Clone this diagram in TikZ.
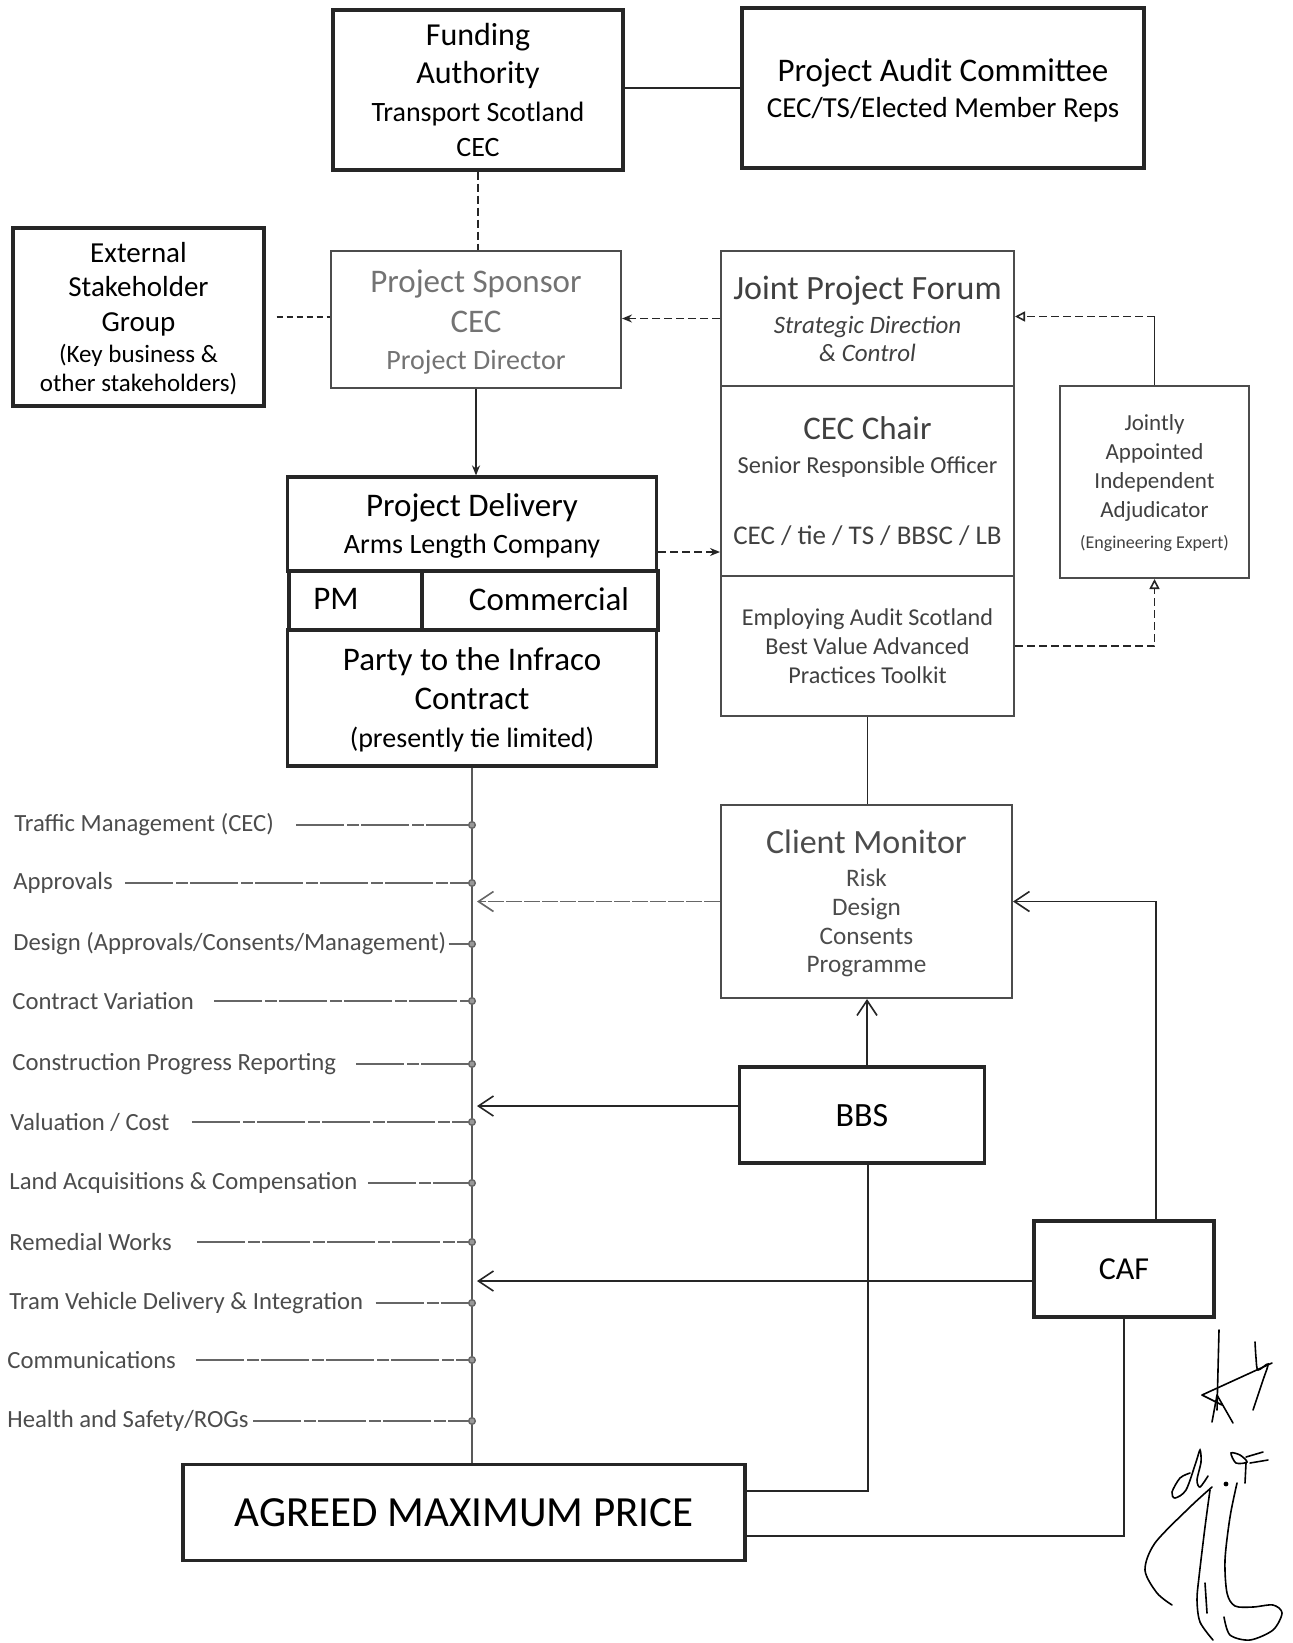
\documentclass[tikz,border=0pt]{standalone}
\usepackage{fontspec}
\setmainfont{Carlito}
\usetikzlibrary{arrows.meta,calc}
\newcommand\fs[2]{\fontsize{#1}{#2}\selectfont}
\tikzset{
 thickbox/.style={draw=black!85, line width=1.6pt, rectangle, inner sep=0pt, align=center, text depth=0pt},
 thinbox/.style={draw=black!70, line width=1pt, rectangle, inner sep=0pt, align=center, text depth=0pt},
 conn/.style={draw=black!85, line width=0.8pt},
 dconn/.style={conn, dash pattern=on 4pt off 2pt},
 leg/.style={draw=black!60, line width=0.7pt, dash pattern=on 24pt off 1.5pt on 6pt off 1pt, -{Circle[length=4pt,fill=black!40]}, shorten >=-2pt},
 oarr/.style={conn, -{Straight Barb[length=7.5pt,width=10pt]}, shorten >=2.5pt},
 sarr/.style={-{Stealth[length=5pt,width=4pt]}},
 tarr/.style={-{Triangle[open,length=5pt,width=5pt]}},
 lab/.style={anchor=west, inner sep=0pt, text=black!70, font=\fs{12.35}{14}},
 sig/.style={draw=black, line width=0.8pt, line cap=round},
}
\begin{document}
\begin{tikzpicture}[x=0.5pt,y=-0.5pt]
\useasboundingbox (0,0) rectangle (1292,1643);

% top row
\node[thickbox, minimum width=145pt, minimum height=80pt, font=\fs{16}{19}] (fund) at (478,90)
 {Funding\\Authority\\{\fs{14}{19}Transport Scotland}\\[-1.5pt]{\fs{14}{19}CEC}};
\node[thickbox, minimum width=201pt, minimum height=80pt, font=\fs{16.5}{18}] (pac) at (943,88)
 {Project Audit Committee\\{\fs{14.5}{18}CEC/TS/Elected Member Reps}};

% second row
\node[thickbox, minimum width=125.5pt, minimum height=89pt, font=\fs{14.5}{17}] (esg) at (138.5,317)
 {External\\Stakeholder\\[0.5pt]Group\\[-1.5pt]{\fs{12.5}{15}(Key business \&}\\[-2.5pt]{\fs{12.5}{15}other stakeholders)}};
\node[thinbox, text=black!55, minimum width=145pt, minimum height=68.5pt, font=\fs{16.5}{20}] (ps) at (476,319.5)
 {Project Sponsor\\CEC\\[-1.5pt]{\fs{14}{20}Project Director}};

% JPF group
\node[thinbox, text=black!75, minimum width=146.5pt, minimum height=67.5pt, font=\fs{17}{17}] (jpf) at (867.5,318.5)
 {Joint Project Forum\\{\itshape\fs{12.5}{17}Strategic Direction}\\[-3pt]{\itshape\fs{12.5}{17}\& Control}};
\node[thinbox, text=black!75, minimum width=146.5pt, minimum height=95pt, font=\fs{16.5}{17}] (chair) at (867.5,481)
 {CEC Chair\\{\fs{12.2}{17}Senior Responsible Officer}\\[18.5pt]{\fs{13.5}{17}CEC / tie / TS / BBSC / LB}};
\node[thinbox, text=black!75, minimum width=146.5pt, minimum height=70pt, font=\fs{12.1}{14.5}] (tool) at (867.5,646)
 {Employing Audit Scotland\\Best Value Advanced\\Practices Toolkit};
\node[thinbox, text=black!75, minimum width=94.5pt, minimum height=96pt, font=\fs{11.5}{14.5}] (adj) at (1154.5,482)
 {Jointly\\Appointed\\Independent\\Adjudicator\\[1pt]{\fs{9}{14.5}(Engineering Expert)}};

% project delivery
\node[thickbox, minimum width=184.5pt, minimum height=47pt, font=\fs{16.5}{18.5}] (pdtop) at (472,524)
 {Project Delivery\\{\fs{14}{18.5}Arms Length Company}};
\node[thickbox, minimum width=66.5pt, minimum height=29.5pt] (pm) at (355.5,600.5) {};
\node[thickbox, minimum width=118pt, minimum height=29.5pt] (comm) at (540,600.5) {};
\node[inner sep=0pt, font=\fs{16.5}{18}] (pmtxt) at (336,599) {PM};
\node[inner sep=0pt, font=\fs{16.5}{18}] (commtxt) at (549,599) {Commercial};
\node[thickbox, minimum width=184.5pt, minimum height=68pt, font=\fs{16.5}{19.5}] (party) at (472,698)
 {Party to the Infraco\\Contract\\[-0.5pt]{\fs{14}{19.5}(presently tie limited)}};

% client monitor, BBS, CAF, AMP
\node[thinbox, text=black!70, minimum width=145.5pt, minimum height=96.5pt, font=\fs{12.6}{14.5}] (cm) at (866.5,901.5)
 {{\fs{17}{14.5}Client Monitor}\\[2pt]Risk\\Design\\Consents\\[-0.5pt]Programme};
\node[thickbox, minimum width=122.5pt, minimum height=48pt, font=\fs{17}{20}] (bbs) at (862,1115) {BBS};
\node[thickbox, minimum width=90pt, minimum height=48pt, font=\fs{16}{19}] (caf) at (1124,1269) {CAF};
\node[thickbox, minimum width=281pt, minimum height=48pt, font=\fs{21.5}{24}] (amp) at (464,1512.5) {AGREED MAXIMUM PRICE};

% top connectors
\draw[conn] (fund.east |- pac.west) -- (pac.west);
\draw[dconn] (fund.south) -- (fund.south |- ps.north);
\draw[dconn, dash pattern=on 3pt off 2pt] ([xshift=5.5pt]esg.east) -- (esg.east -| ps.west);
\draw[dconn, sarr] (jpf.west) -- (jpf.west -| ps.east);
\draw[conn, sarr] (ps.south) -- (ps.south |- pdtop.north);
\coordinate (pdout) at ([yshift=-14pt]pdtop.east);
\draw[dconn, sarr] (pdout) -- (pdout -| chair.west);
\draw[conn] (tool.south) -- (tool.south |- cm.north);
\coordinate (jpfin) at ([yshift=1pt]jpf.east);
\coordinate (adjc) at (adj.north |- jpfin);
\draw[conn] (adj.north) -- (adjc);
\draw[dconn, tarr] (adjc) -- (jpfin);
\draw[dconn, tarr] (tool.east) -| (adj.south);

% spine
\draw[draw=black!65, line width=1pt] (party.south) -- (party.south |- amp.north);

% legs
\node[lab] (t1) at (14,825) {Traffic Management (CEC)};
\node[lab] (t2) at (13,883) {Approvals};
\node[lab] (t3) at (13,944) {Design (Approvals/Consents/Management)};
\node[lab] (t4) at (12,1001) {Contract Variation};
\node[lab] (t5) at (12,1064) {Construction Progress Reporting};
\node[lab] (t6) at (10,1122) {Valuation / Cost};
\node[lab] (t7) at (9,1183) {Land Acquisitions \& Compensation};
\node[lab] (t8) at (9,1242) {Remedial Works};
\node[lab] (t9) at (9,1303) {Tram Vehicle Delivery \& Integration};
\node[lab] (t10) at (7,1360) {Communications};
\node[lab] (t11) at (7,1421) {Health and Safety/ROGs};
\draw[leg] ([xshift=11pt]t1.east) -- (t1.east -| party.south);
\draw[leg] ([xshift=6pt]t2.east) -- (t2.east -| party.south);
\draw[leg] ([xshift=1pt]t3.east) -- (t3.east -| party.south);
\draw[leg] ([xshift=10pt]t4.east) -- (t4.east -| party.south);
\draw[leg] ([xshift=10pt]t5.east) -- (t5.east -| party.south);
\draw[leg] ([xshift=11pt]t6.east) -- (t6.east -| party.south);
\draw[leg] ([xshift=5pt]t7.east) -- (t7.east -| party.south);
\draw[leg] ([xshift=12.5pt]t8.east) -- (t8.east -| party.south);
\draw[leg] ([xshift=6pt]t9.east) -- (t9.east -| party.south);
\draw[leg] ([xshift=10pt]t10.east) -- (t10.east -| party.south);
\draw[leg] ([xshift=2pt]t11.east) -- (t11.east -| party.south);

% lower connectors
\draw[oarr, draw=black!60, dash pattern=on 8pt off 1pt] (cm.west) -- (cm.west -| party.south);
\coordinate (bbsout) at ([yshift=4.5pt]bbs.west);
\draw[oarr] (bbsout) -- (bbsout -| party.south);
\coordinate (cafout) at ([yshift=-6pt]caf.west);
\draw[oarr] (cafout) -- (cafout -| party.south);
\coordinate (bbsup) at ([xshift=2.5pt]bbs.north);
\draw[oarr, shorten >=0pt] (bbsup) -- (bbsup |- cm.south);
\coordinate (cafup) at ([xshift=16pt]caf.north);
\draw[oarr, shorten >=0pt] (cafup) |- (cm.east);
\draw[conn] ([xshift=3pt]bbs.south) |- ([yshift=10.75pt]amp.east);
\draw[conn] (caf.south) |- ([yshift=-11.75pt]amp.east);

% handwritten initials
\draw[sig] (1219,1330) -- (1217,1410);
\draw[sig] (1217,1395) -- (1212,1422);
\draw[sig] (1217,1395) -- (1233,1423);
\draw[sig] (1202,1395) -- (1272,1363);
\draw[sig] (1202,1395) -- (1222,1405);
\draw[sig] plot[smooth] coordinates {(1255,1342) (1256,1358) (1258,1370) (1268,1364) (1263,1380) (1253,1410)};
\draw[sig] plot[smooth] coordinates {(1190,1473) (1180,1478) (1172,1492) (1175,1498) (1186,1490) (1196,1462) (1200,1450) (1201,1462) (1197,1480) (1200,1487) (1208,1476)};
\fill (1226,1484) circle (1.2pt);
\draw[sig] plot[smooth cycle] coordinates {(1231,1453) (1240,1455) (1247,1462) (1236,1463)};
\draw[sig] (1246,1457) -- (1263,1452);
\draw[sig] (1250,1463) -- (1268,1460);
\draw[sig] (1246,1463) -- (1245,1483);
\draw[sig] plot[smooth] coordinates {(1212,1487) (1190,1507) (1155,1543) (1145,1570) (1157,1593) (1172,1605)};
\draw[sig] plot[smooth] coordinates {(1210,1490) (1205,1527) (1199,1577) (1197,1600) (1200,1622) (1213,1640)};
\draw[sig] (1205,1583) -- (1207,1613);
\draw[sig] plot[smooth] coordinates {(1237,1483) (1230,1517) (1225,1560) (1227,1593) (1235,1606) (1253,1607) (1273,1605) (1282,1613) (1273,1630) (1250,1640) (1230,1635) (1224,1617)};
\end{tikzpicture}
\end{document}
